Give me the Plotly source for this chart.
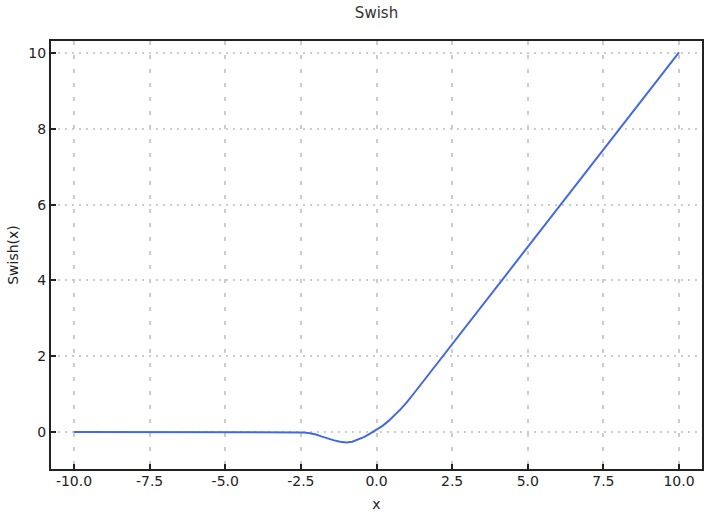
import plotly.graph_objects as go

# data
x_vals = [-10.0, -2.8, -2.6, -2.4, -2.2, -2.0, -1.8, -1.6, -1.4, -1.2, -1.0, -0.8, -0.6, -0.4, -0.2, 0.0, 0.2, 0.4, 0.6, 0.8, 1.0, 1.24, 10.0]
y_vals = [0.0, 0.0, -0.005, -0.015, -0.035, -0.07, -0.125, -0.18, -0.225, -0.26, -0.28, -0.26, -0.2, -0.13, -0.04, 0.05, 0.16, 0.29, 0.44, 0.6, 0.78, 1.02, 10.02]

x_ticks = [-10.0, -7.5, -5.0, -2.5, 0.0, 2.5, 5.0, 7.5, 10.0]
x_tick_text = ["-10.0", "-7.5", "-5.0", "-2.5", "0.0", "2.5", "5.0", "7.5", "10.0"]
y_ticks = [0, 2, 4, 6, 8, 10]
y_tick_text = ["0", "2", "4", "6", "8", "10"]

fig = go.Figure()
fig.add_trace(go.Scatter(x=x_vals, y=y_vals, mode="lines",
                         line=dict(color="#4169E1", width=2, shape="linear"),
                         showlegend=False))

font = "DejaVu Sans, sans-serif"
fig.update_layout(
    width=710, height=521,
    margin=dict(l=51, r=8, t=41, b=52, autoexpand=False),
    paper_bgcolor="white", plot_bgcolor="white",
    title=dict(text="Swish", x=0.5, xref="paper", xanchor="center", y=1 - 13 / 521, yanchor="middle",
               font=dict(family=font, size=15, color="#333333")),
    font=dict(family=font, size=14, color="#222222"),
)
fig.update_xaxes(
    range=[-10.76, 10.76], tickvals=x_ticks, ticktext=x_tick_text, automargin=False,
    showline=True, linecolor="#222222", linewidth=2, mirror=True,
    ticks="inside", ticklen=5, tickwidth=1.5, tickcolor="#222222", ticklabelstandoff=-2,
    showgrid=True, gridcolor="#cccccc", gridwidth=2, griddash="4px,10px",
    zeroline=False, title=dict(text="x", font=dict(size=14), standoff=11),
)
fig.update_yaxes(
    range=[-0.98, 10.32], tickvals=y_ticks, ticktext=y_tick_text, automargin=False,
    showline=True, linecolor="#222222", linewidth=2, mirror=True,
    ticks="inside", ticklen=5, tickwidth=1.5, tickcolor="#222222",
    showgrid=True, gridcolor="#cccccc", gridwidth=2, griddash="2px,5px",
    zeroline=False, title=dict(text="Swish(x)", font=dict(size=14), standoff=6),
)
fig.write_html("out.html", config={"displayModeBar": False},
               post_script="document.body.style.margin='0';")
